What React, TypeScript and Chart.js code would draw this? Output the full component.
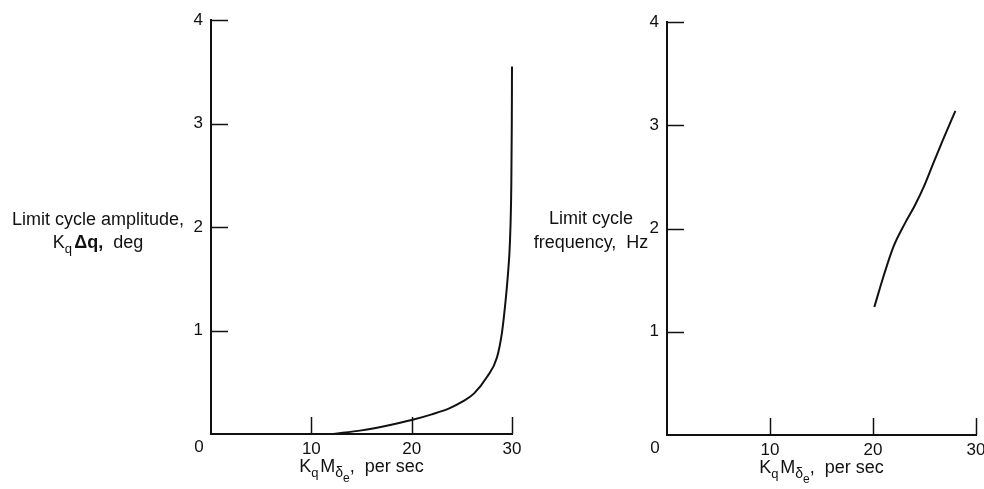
import React, { useEffect, useRef } from 'react';
import { Chart, registerables } from 'chart.js';
Chart.register(...registerables);

const FONT = '"Liberation Sans", Arial, sans-serif';
const INK = '#111';

// Left panel: limit cycle amplitude vs gain
const ampGain = [12.2, 15, 17.5, 20, 22, 23.8, 25, 26.2, 27.5, 28.5, 29, 29.3, 29.6, 29.8, 29.93, 29.98, 30];
const ampValue = [0, 0.035, 0.08, 0.135, 0.19, 0.25, 0.31, 0.39, 0.55, 0.74, 0.98, 1.23, 1.55, 1.87, 2.4, 3.0, 3.55];
// Right panel: limit cycle frequency vs gain
const freqGain = [20.13, 21.0, 21.97, 23.1, 24.1, 25.0, 25.85, 26.8, 28.0];
const freqValue = [1.24, 1.53, 1.82, 2.05, 2.23, 2.42, 2.63, 2.86, 3.14];

const xTickValues = [0, 10, 20, 30];
const yTickValues = [0, 1, 2, 3, 4];

type Seg = { t: string; size: number; dy: number; bold?: boolean };

const xTitleSegs: Seg[] = [
  { t: 'K', size: 18, dy: 0 },
  { t: 'q', size: 13, dy: 5 },
  { t: ' ', size: 6, dy: 0 },
  { t: 'M', size: 18, dy: 0 },
  { t: 'δ', size: 14, dy: 5 },
  { t: 'e', size: 12, dy: 10 },
  { t: ',  per sec', size: 18, dy: 0 },
];

const ampTitle: Seg[][] = [
  [{ t: 'Limit cycle amplitude,', size: 18, dy: 0 }],
  [
    { t: 'K', size: 18, dy: 0 },
    { t: 'q', size: 13, dy: 5 },
    { t: ' ', size: 8, dy: 0 },
    { t: 'Δq,', size: 18, dy: 0, bold: true },
    { t: '  deg', size: 18, dy: 0 },
  ],
];

const freqTitle: Seg[][] = [
  [{ t: 'Limit cycle', size: 18, dy: 0 }],
  [{ t: 'frequency,  Hz', size: 18, dy: 0 }],
];

function fontOf(s: Seg) {
  return `${s.bold ? 'bold ' : ''}${s.size}px ${FONT}`;
}

function drawRich(ctx: CanvasRenderingContext2D, segs: Seg[], cx: number, baseline: number) {
  let total = 0;
  for (const s of segs) {
    ctx.font = fontOf(s);
    total += ctx.measureText(s.t).width;
  }
  let x = cx - total / 2;
  ctx.textAlign = 'left';
  ctx.textBaseline = 'alphabetic';
  for (const s of segs) {
    ctx.font = fontOf(s);
    ctx.fillText(s.t, x, baseline + s.dy);
    x += ctx.measureText(s.t).width;
  }
}

const annot = {
  id: 'annot',
  afterDraw(chart: any, _args: any, opts: any) {
    const ctx: CanvasRenderingContext2D = chart.ctx;
    const { left, right, bottom } = chart.chartArea;
    const xs = chart.scales.x;
    const ys = chart.scales.y;
    const tickLen = 17;
    ctx.save();
    ctx.strokeStyle = INK;
    ctx.lineWidth = 1.5;
    for (const v of yTickValues) {
      if (v === 0) continue;
      const py = Math.round(ys.getPixelForValue(v)) + 0.5;
      ctx.beginPath();
      ctx.moveTo(left, py);
      ctx.lineTo(left + tickLen, py);
      ctx.stroke();
    }
    for (const v of xTickValues) {
      if (v === 0) continue;
      const px = Math.round(xs.getPixelForValue(v)) + 0.5;
      ctx.beginPath();
      ctx.moveTo(px, bottom);
      ctx.lineTo(px, bottom - tickLen);
      ctx.stroke();
    }
    ctx.fillStyle = INK;
    ctx.font = `17px ${FONT}`;
    ctx.textAlign = 'center';
    ctx.textBaseline = 'middle';
    ctx.fillText('0', xs.getPixelForValue(0) - 12, ys.getPixelForValue(0) + 13);

    const y2 = ys.getPixelForValue(2);
    const lines: Seg[][] = opts.title;
    lines.forEach((line, i) => {
      drawRich(ctx, line, left + opts.titleDx, y2 + opts.baselines[i]);
    });
    drawRich(ctx, xTitleSegs, (left + right) / 2, bottom + 38);
    ctx.restore();
  },
};

function buildChart(
  canvas: HTMLCanvasElement,
  gx: number[],
  gy: number[],
  pad: { top: number; right: number },
  yWidth: number,
  xHeight: number,
  title: Seg[][],
  titleDx: number,
  baselines: number[],
) {
  return new Chart(canvas, {
    type: 'line',
    data: {
      datasets: [
        {
          data: gx.map((x, i) => ({ x, y: gy[i] })),
          borderColor: INK,
          borderWidth: 2,
          pointRadius: 0,
          fill: false,
          cubicInterpolationMode: 'monotone',
          clip: false as any,
        },
      ],
    },
    options: {
      responsive: false,
      animation: false,
      events: [],
      layout: { padding: { top: pad.top, right: pad.right, left: 0, bottom: 0 } },
      plugins: {
        legend: { display: false },
        tooltip: { enabled: false },
        annot: { title, titleDx, baselines },
      } as any,
      scales: {
        x: {
          type: 'linear',
          min: 0,
          max: 30,
          grid: { display: false, drawTicks: false },
          border: { display: true, color: INK, width: 2 },
          afterBuildTicks: (s: any) => {
            s.ticks = xTickValues.map((v) => ({ value: v }));
          },
          afterFit: (s: any) => {
            s.height = xHeight;
          },
          ticks: {
            color: INK,
            font: { family: FONT, size: 17 },
            padding: 5,
            maxRotation: 0,
            callback: (v: any) => (v === 0 ? '' : String(v)),
          },
        },
        y: {
          type: 'linear',
          min: 0,
          max: 4,
          grid: { display: false, drawTicks: false },
          border: { display: true, color: INK, width: 2 },
          afterBuildTicks: (s: any) => {
            s.ticks = yTickValues.map((v) => ({ value: v }));
          },
          afterFit: (s: any) => {
            s.width = yWidth;
          },
          ticks: {
            color: INK,
            font: { family: FONT, size: 17 },
            padding: 8,
            callback: (v: any) => (v === 0 ? '' : String(v)),
          },
        },
      },
    },
    plugins: [annot],
  } as any);
}

export default function App() {
  const leftRef = useRef<HTMLCanvasElement>(null);
  const rightRef = useRef<HTMLCanvasElement>(null);

  useEffect(() => {
    const c1 = buildChart(
      leftRef.current!,
      ampGain,
      ampValue,
      { top: 20, right: 28 },
      211,
      55,
      ampTitle,
      -113,
      [-2, 21],
    );
    const c2 = buildChart(
      rightRef.current!,
      freqGain,
      freqValue,
      { top: 22, right: 24 },
      147,
      54,
      freqTitle,
      -76,
      [-5, 19],
    );
    return () => {
      c1.destroy();
      c2.destroy();
    };
  }, []);

  return (
    <div
      style={{
        position: 'fixed',
        left: 0,
        top: 0,
        width: 984,
        height: 489,
        overflow: 'hidden',
        background: '#fff',
      }}
    >
      <canvas ref={leftRef} width={540} height={489} style={{ position: 'absolute', left: 0, top: 0 }} />
      <canvas ref={rightRef} width={480} height={489} style={{ position: 'absolute', left: 520, top: 0 }} />
    </div>
  );
}
